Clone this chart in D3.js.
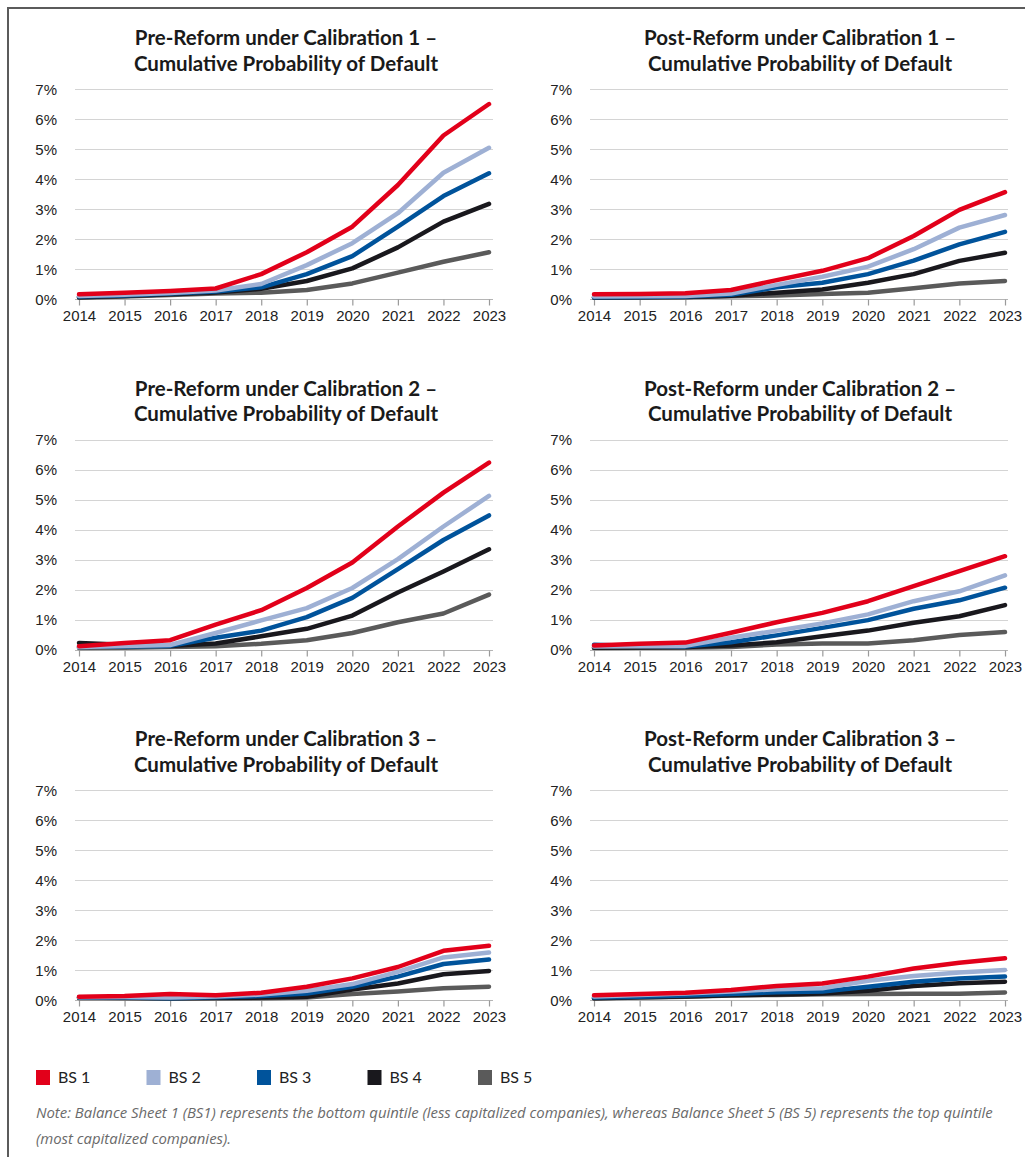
<!DOCTYPE html>
<html><head><meta charset="utf-8">
<script src="https://cdn.jsdelivr.net/npm/d3@7"></script>
<style>body{margin:0;background:#fff}</style></head>
<body>
<svg id="c" width="1025" height="1157"></svg>
<script>
const years = [2014, 2015, 2016, 2017, 2018, 2019, 2020, 2021, 2022, 2023];
const yTicks = [0, 1, 2, 3, 4, 5, 6, 7];
const seriesNames = ["BS 1", "BS 2", "BS 3", "BS 4", "BS 5"];
const seriesColors = ["#e2001a", "#9eb0d4", "#00539b", "#19181d", "#5a5a5a"];
const panelTitles = [
  ["Pre-Reform under Calibration 1 –", "Cumulative Probability of Default"],
  ["Post-Reform under Calibration 1 –", "Cumulative Probability of Default"],
  ["Pre-Reform under Calibration 2 –", "Cumulative Probability of Default"],
  ["Post-Reform under Calibration 2 –", "Cumulative Probability of Default"],
  ["Pre-Reform under Calibration 3 –", "Cumulative Probability of Default"],
  ["Post-Reform under Calibration 3 –", "Cumulative Probability of Default"]
];
// values in % ; order BS1..BS5
const preCal1 = [
  [0.16, 0.21, 0.27, 0.35, 0.83, 1.56, 2.41, 3.80, 5.45, 6.50],
  [0.10, 0.14, 0.20, 0.28, 0.50, 1.13, 1.86, 2.86, 4.21, 5.04],
  [0.08, 0.12, 0.18, 0.25, 0.39, 0.83, 1.43, 2.41, 3.43, 4.19],
  [0.06, 0.10, 0.16, 0.22, 0.34, 0.60, 1.02, 1.72, 2.58, 3.17],
  [0.04, 0.08, 0.13, 0.18, 0.21, 0.30, 0.52, 0.88, 1.24, 1.56]
];
const postCal1 = [
  [0.16, 0.17, 0.19, 0.30, 0.63, 0.94, 1.36, 2.10, 2.97, 3.56],
  [0.08, 0.09, 0.10, 0.18, 0.47, 0.74, 1.08, 1.66, 2.38, 2.80],
  [0.06, 0.07, 0.08, 0.14, 0.39, 0.54, 0.83, 1.28, 1.82, 2.24],
  [0.05, 0.06, 0.07, 0.11, 0.21, 0.32, 0.54, 0.83, 1.27, 1.54],
  [0.04, 0.05, 0.06, 0.09, 0.12, 0.17, 0.21, 0.36, 0.52, 0.60]
];
const preCal2 = [
  [0.11, 0.22, 0.31, 0.83, 1.31, 2.05, 2.90, 4.10, 5.23, 6.23],
  [0.08, 0.12, 0.15, 0.55, 0.97, 1.38, 2.05, 3.01, 4.10, 5.12],
  [0.08, 0.10, 0.12, 0.39, 0.63, 1.08, 1.72, 2.68, 3.65, 4.47],
  [0.22, 0.16, 0.12, 0.20, 0.44, 0.69, 1.13, 1.90, 2.60, 3.34],
  [0.05, 0.06, 0.08, 0.11, 0.19, 0.31, 0.55, 0.91, 1.20, 1.83]
];
const postCal2 = [
  [0.13, 0.19, 0.23, 0.56, 0.91, 1.22, 1.61, 2.11, 2.61, 3.11],
  [0.10, 0.11, 0.12, 0.39, 0.63, 0.87, 1.17, 1.61, 1.94, 2.47],
  [0.16, 0.12, 0.10, 0.24, 0.47, 0.72, 0.98, 1.36, 1.64, 2.06],
  [0.06, 0.07, 0.08, 0.13, 0.24, 0.44, 0.63, 0.89, 1.11, 1.48],
  [0.05, 0.06, 0.06, 0.08, 0.17, 0.20, 0.20, 0.31, 0.48, 0.58]
];
const preCal3 = [
  [0.11, 0.13, 0.20, 0.16, 0.24, 0.44, 0.72, 1.10, 1.64, 1.81],
  [0.09, 0.10, 0.08, 0.12, 0.18, 0.31, 0.53, 0.94, 1.42, 1.58],
  [0.08, 0.08, 0.06, 0.09, 0.13, 0.22, 0.44, 0.78, 1.20, 1.35],
  [0.07, 0.07, 0.06, 0.07, 0.08, 0.11, 0.35, 0.55, 0.86, 0.97],
  [0.08, 0.07, 0.05, 0.06, 0.06, 0.08, 0.20, 0.28, 0.39, 0.44]
];
const postCal3 = [
  [0.16, 0.20, 0.24, 0.33, 0.47, 0.55, 0.78, 1.05, 1.24, 1.39],
  [0.12, 0.17, 0.22, 0.28, 0.36, 0.39, 0.64, 0.80, 0.92, 1.00],
  [0.08, 0.11, 0.15, 0.20, 0.26, 0.28, 0.44, 0.61, 0.72, 0.78],
  [0.06, 0.09, 0.12, 0.16, 0.18, 0.22, 0.31, 0.47, 0.56, 0.61],
  [0.05, 0.08, 0.11, 0.15, 0.17, 0.19, 0.20, 0.21, 0.21, 0.25]
];
const panelData = [preCal1, postCal1, preCal2, postCal2, preCal3, postCal3];
const noteLines = [
  "Note: Balance Sheet 1 (BS1) represents the bottom quintile (less capitalized companies), whereas Balance Sheet 5 (BS 5) represents the top quintile",
  "(most capitalized companies)."
];

const svg = d3.select("#c");
svg.append("rect").attr("width", 1025).attr("height", 1157).attr("fill", "#fff");
// frame
svg.append("path").attr("d", "M8,1157 V8 H1025").attr("fill", "none")
  .attr("stroke", "#5b5b5b").attr("stroke-width", 2);

const cols = [
  {gx0: 75, gx1: 493, x0: 79, x1: 489, labelX: 57, titleX: 286},
  {gx0: 590, gx1: 1008, x0: 594, x1: 1005, labelX: 572, titleX: 800}
];
const rows = [
  {yBase: 299, yTop: 89, t1: 45},
  {yBase: 649.5, yTop: 439.5, t1: 395.5},
  {yBase: 1000, yTop: 790, t1: 746}
];

panelData.forEach((data, i) => {
  const c = cols[i % 2], r = rows[Math.floor(i / 2)];
  const x = d3.scaleLinear().domain([years[0], years[years.length - 1]]).range([c.x0, c.x1]);
  const y = d3.scaleLinear().domain([0, 7]).range([r.yBase, r.yTop]);
  const g = svg.append("g");

  // titles
  const tt = g.append("text").attr("x", c.titleX).attr("text-anchor", "middle")
    .attr("font-family", "Lato, 'Open Sans', sans-serif").attr("font-weight", 700)
    .attr("font-size", 20.5).attr("fill", "#1a1a1a");
  tt.append("tspan").attr("x", c.titleX).attr("y", r.t1).text(panelTitles[i][0]);
  tt.append("tspan").attr("x", c.titleX).attr("y", r.t1 + 25.5).text(panelTitles[i][1]);

  // gridlines
  g.selectAll("line.grid").data(yTicks).enter().append("line")
    .attr("x1", c.gx0).attr("x2", c.gx1)
    .attr("y1", d => Math.round(y(d)) + 0.5).attr("y2", d => Math.round(y(d)) + 0.5)
    .attr("stroke", d => d === 0 ? "#b5b5b5" : "#d4d4d4").attr("stroke-width", 1.2);

  // y labels
  g.selectAll("text.yl").data(yTicks).enter().append("text")
    .attr("x", c.labelX).attr("y", d => y(d) + 5.5).attr("text-anchor", "end")
    .attr("font-family", "'Liberation Sans', Arial, sans-serif").attr("font-size", 15)
    .attr("fill", "#222").text(d => d + "%");

  // x axis
  const xa = g.append("g").attr("transform", `translate(0,${Math.round(r.yBase) + 0.5})`)
    .call(d3.axisBottom(x).tickValues(years).tickFormat(d3.format("d")).tickSize(6).tickPadding(5));
  xa.select(".domain").remove();
  xa.selectAll(".tick line").attr("stroke", "#9a9a9a").attr("stroke-width", 1.2);
  xa.selectAll(".tick text").attr("font-family", "'Liberation Sans', Arial, sans-serif")
    .attr("font-size", 15).attr("fill", "#222");

  // lines (BS5 at back, BS1 on top)
  const line = d3.line().x((d, k) => x(years[k])).y(d => y(d));
  for (let s = data.length - 1; s >= 0; s--) {
    g.append("path").datum(data[s]).attr("d", line).attr("fill", "none")
      .attr("stroke", seriesColors[s]).attr("stroke-width", 4.5)
      .attr("stroke-linejoin", "round").attr("stroke-linecap", "round");
  }
});

// legend
const lg = svg.append("g");
seriesNames.forEach((n, i) => {
  const lx = 36 + i * 110.5;
  lg.append("rect").attr("x", lx).attr("y", 1070).attr("width", 14).attr("height", 15)
    .attr("fill", seriesColors[i]);
  lg.append("text").attr("x", lx + 22).attr("y", 1083)
    .attr("font-family", "Lato, 'Open Sans', sans-serif").attr("font-size", 16)
    .attr("fill", "#222").text(n);
});

// note
noteLines.forEach((t, i) => {
  svg.append("text").attr("x", 36).attr("y", 1118 + i * 26)
    .attr("font-family", "'Open Sans', Lato, sans-serif").attr("font-style", "italic")
    .attr("font-size", 14.9).attr("fill", "#6a6a6a").text(t);
});
</script>
</body></html>
